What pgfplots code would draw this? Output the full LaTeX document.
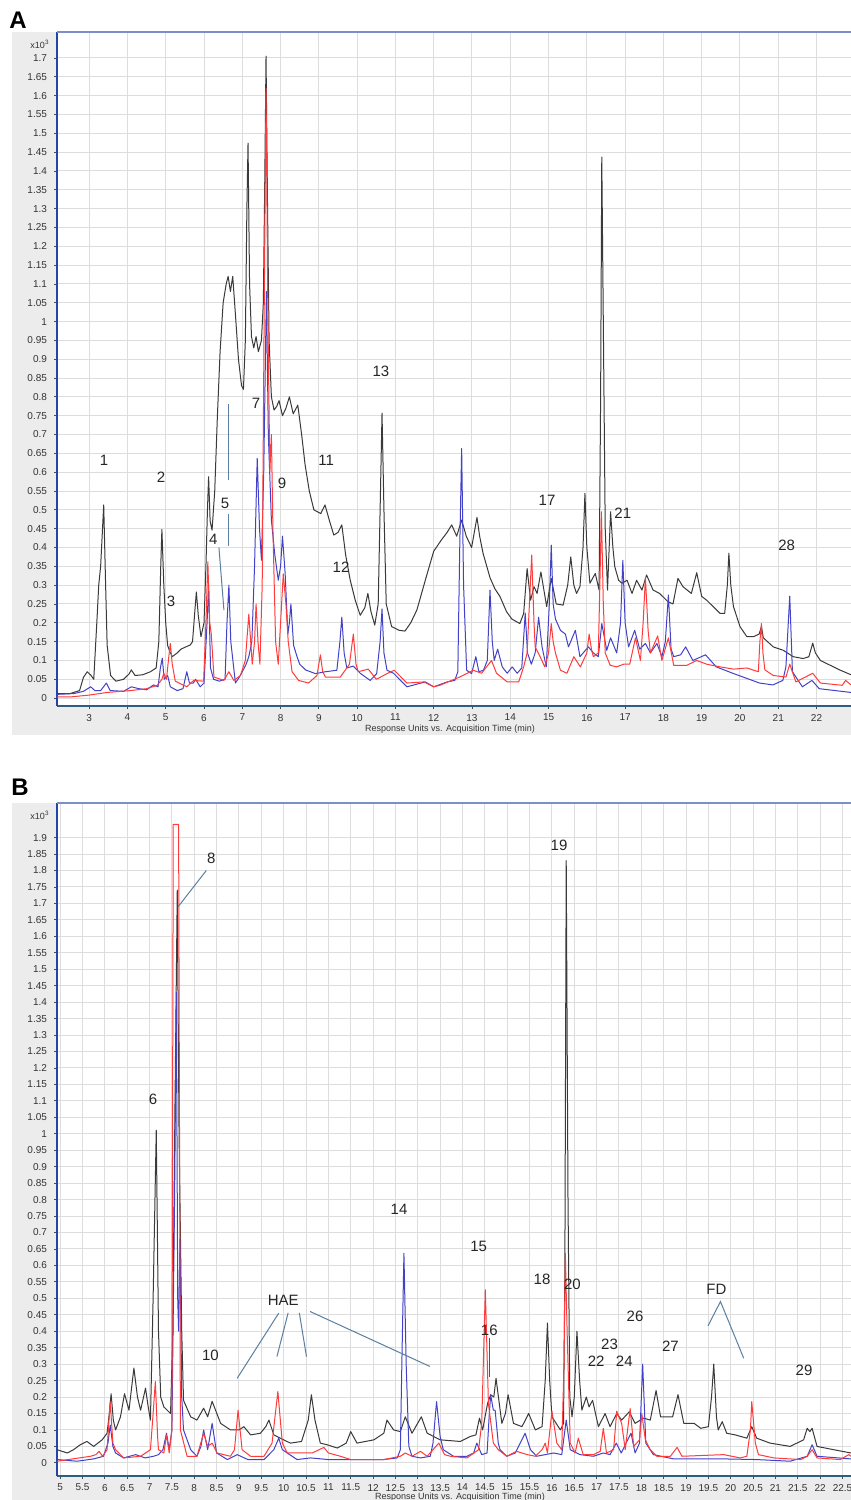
\documentclass[border=0pt]{standalone}
\usepackage{fontspec}
\setmainfont{Liberation Sans}
\usepackage{pgfplots}
\pgfplotsset{compat=1.18}

\definecolor{trblack}{HTML}{3A3A3A}
\definecolor{trblue}{HTML}{4242C8}
\definecolor{trred}{HTML}{FF3B3B}
\definecolor{pointer}{HTML}{5A7FA0}
\definecolor{panelgray}{HTML}{ECECEC}
\definecolor{gridgray}{HTML}{DDDDDD}
\definecolor{axblue}{HTML}{2444A8}
\definecolor{axbottom}{HTML}{2F5F80}

\tikzset{lbl/.style={font=\fontsize{7.5}{8}\selectfont, text=black!85, inner sep=0pt}}

\pgfplotsset{
  chrom/.style={
    scale only axis, width=397pt,
    axis x line*=bottom, axis y line*=left,
    axis background/.style={fill=white},
    grid=major, major grid style={gridgray, line width=0.5pt},
    tick align=outside, major tick length=1.5pt,
    tick style={black!70, line width=0.4pt},
    x axis line style={axbottom, line width=1.1pt},
    y axis line style={axblue, line width=0.9pt},
    ticklabel style={font=\fontsize{5}{6}\selectfont, text=black!80},
    /pgf/number format/assume math mode=true,
    scaled y ticks=false, scaled x ticks=false,
    yticklabel style={/pgf/number format/.cd, fixed, precision=2},
    xticklabel style={yshift=1pt, /pgf/number format/.cd, fixed, precision=1},
    clip mode=individual,
    every axis plot/.append style={line width=0.5pt, line join=round},
  }
}

\begin{document}
\begin{tikzpicture}
\useasboundingbox (0,0) rectangle (425.5pt,-750pt);
\fill[panelgray] (6pt,-16pt) rectangle (425.5pt,-367.5pt);
\fill[panelgray] (6pt,-401.5pt) rectangle (425.5pt,-750pt);
\node[font=\bfseries\fontsize{12}{13}\selectfont, inner sep=0pt] at (9pt,-10pt) {A};
\node[font=\bfseries\fontsize{12}{13}\selectfont, inner sep=0pt] at (10pt,-393.5pt) {B};
\node[font=\fontsize{4.5}{5}\selectfont, text=black!80, inner sep=0pt] at (20pt,-22pt) {x10\textsuperscript{3}};
\node[font=\fontsize{4.5}{5}\selectfont, text=black!80, inner sep=0pt] at (20pt,-407.5pt) {x10\textsuperscript{3}};
\node[font=\fontsize{4.5}{5}\selectfont, text=black!80, inner sep=0pt] at (225pt,-364.5pt) {Response Units vs. Acquisition Time (min)};
\node[font=\fontsize{4.5}{5}\selectfont, text=black!80, inner sep=0pt] at (230pt,-748.7pt) {Response Units vs. Acquisition Time (min)};

% ---------------- panel A ----------------
\begin{axis}[chrom, at={(28.5pt,-353pt)}, anchor=south west, height=337pt,
  xmin=2.16, xmax=22.9, ymin=-0.021, ymax=1.769,
  xtick={3,4,...,22}, ytick={0,0.05,...,1.7}]
\addplot[trblack] coordinates {
(2.16,0.012) (2.5,0.012) (2.75,0.02) (2.85,0.055) (2.95,0.07) (3.05,0.06) (3.12,0.05) (3.2,0.2) (3.25,0.3) (3.3,0.35) (3.38,0.513) (3.43,0.3) (3.47,0.14) (3.56,0.06) (3.7,0.045) (3.9,0.05) (4.05,0.065) (4.1,0.075) (4.2,0.06) (4.4,0.062) (4.6,0.07) (4.75,0.08) (4.82,0.15) (4.87,0.35) (4.9,0.448) (4.95,0.3) (5.0,0.2) (5.05,0.14) (5.1,0.125) (5.17,0.11) (5.3,0.12) (5.4,0.13) (5.5,0.135) (5.64,0.141) (5.7,0.15) (5.76,0.23) (5.8,0.282) (5.85,0.22) (5.92,0.163) (6.0,0.2) (6.05,0.35) (6.09,0.5) (6.12,0.588) (6.16,0.47) (6.21,0.446) (6.28,0.55) (6.35,0.75) (6.42,0.92) (6.5,1.05) (6.58,1.1) (6.63,1.12) (6.69,1.08) (6.75,1.12) (6.82,1.02) (6.9,0.9) (6.98,0.83) (7.03,0.82) (7.08,0.95) (7.12,1.3) (7.15,1.474) (7.19,1.1) (7.24,0.96) (7.3,0.93) (7.36,0.96) (7.42,0.92) (7.5,0.95) (7.55,1.05) (7.59,1.4) (7.62,1.705) (7.66,1.3) (7.7,0.95) (7.76,0.8) (7.83,0.765) (7.9,0.775) (7.96,0.79) (8.05,0.75) (8.14,0.77) (8.23,0.80) (8.33,0.755) (8.45,0.778) (8.55,0.7) (8.64,0.62) (8.75,0.55) (8.87,0.5) (9.05,0.49) (9.16,0.513) (9.28,0.47) (9.39,0.433) (9.5,0.44) (9.6,0.46) (9.7,0.38) (9.82,0.313) (9.95,0.26) (10.08,0.22) (10.2,0.24) (10.28,0.278) (10.36,0.23) (10.46,0.194) (10.55,0.25) (10.6,0.5) (10.65,0.757) (10.7,0.5) (10.76,0.25) (10.9,0.19) (11.1,0.18) (11.25,0.178) (11.4,0.2) (11.56,0.234) (11.8,0.32) (12.0,0.39) (12.2,0.42) (12.35,0.44) (12.47,0.46) (12.6,0.43) (12.73,0.473) (12.85,0.43) (12.99,0.40) (13.13,0.48) (13.2,0.43) (13.29,0.384) (13.47,0.32) (13.6,0.29) (13.73,0.27) (13.9,0.23) (14.04,0.21) (14.25,0.198) (14.35,0.225) (14.44,0.344) (14.53,0.26) (14.62,0.296) (14.7,0.278) (14.8,0.335) (14.95,0.243) (15.07,0.318) (15.2,0.25) (15.38,0.247) (15.5,0.3) (15.58,0.375) (15.66,0.3) (15.73,0.278) (15.82,0.296) (15.9,0.4) (15.95,0.544) (16.0,0.4) (16.08,0.305) (16.22,0.331) (16.32,0.287) (16.36,0.8) (16.39,1.437) (16.43,1.0) (16.48,0.45) (16.54,0.287) (16.62,0.495) (16.68,0.4) (16.73,0.349) (16.83,0.313) (16.92,0.305) (17.05,0.313) (17.18,0.278) (17.3,0.313) (17.44,0.287) (17.56,0.327) (17.73,0.287) (17.9,0.278) (18.12,0.256) (18.25,0.25) (18.38,0.318) (18.51,0.296) (18.73,0.278) (18.87,0.333) (19.0,0.27) (19.13,0.26) (19.3,0.243) (19.48,0.225) (19.6,0.225) (19.67,0.3) (19.71,0.385) (19.76,0.3) (19.83,0.243) (20.0,0.19) (20.18,0.163) (20.35,0.163) (20.5,0.17) (20.56,0.19) (20.61,0.16) (20.87,0.136) (21.13,0.127) (21.39,0.11) (21.65,0.105) (21.8,0.11) (21.9,0.146) (21.97,0.12) (22.1,0.1) (22.3,0.09) (22.6,0.075) (22.9,0.062)
};
\addplot[trblue] coordinates {
(2.16,0.01) (2.6,0.012) (2.85,0.018) (3.04,0.03) (3.15,0.02) (3.3,0.02) (3.45,0.04) (3.55,0.02) (3.9,0.018) (4.1,0.03) (4.3,0.025) (4.5,0.022) (4.68,0.035) (4.8,0.03) (4.86,0.08) (4.91,0.106) (4.96,0.05) (5.05,0.06) (5.12,0.03) (5.3,0.02) (5.45,0.025) (5.55,0.07) (5.62,0.04) (5.72,0.04) (5.78,0.05) (5.9,0.03) (6.0,0.04) (6.08,0.2) (6.12,0.3) (6.17,0.08) (6.25,0.05) (6.4,0.045) (6.55,0.05) (6.6,0.2) (6.65,0.30) (6.7,0.15) (6.82,0.04) (6.95,0.06) (7.1,0.09) (7.17,0.11) (7.25,0.15) (7.32,0.35) (7.39,0.637) (7.45,0.45) (7.5,0.366) (7.56,0.6) (7.63,1.08) (7.68,0.7) (7.76,0.473) (7.85,0.38) (7.94,0.313) (8.0,0.35) (8.05,0.43) (8.12,0.33) (8.19,0.17) (8.23,0.2) (8.27,0.25) (8.34,0.14) (8.43,0.11) (8.5,0.09) (8.65,0.075) (8.91,0.065) (9.17,0.07) (9.47,0.074) (9.55,0.15) (9.6,0.215) (9.66,0.12) (9.73,0.08) (9.9,0.085) (10.08,0.066) (10.34,0.047) (10.51,0.065) (10.6,0.15) (10.65,0.237) (10.7,0.12) (10.78,0.074) (10.95,0.066) (11.3,0.03) (11.78,0.043) (12.0,0.03) (12.35,0.043) (12.55,0.047) (12.63,0.07) (12.68,0.4) (12.73,0.663) (12.78,0.3) (12.86,0.074) (12.99,0.065) (13.1,0.11) (13.18,0.07) (13.3,0.074) (13.4,0.1) (13.47,0.287) (13.53,0.15) (13.58,0.10) (13.67,0.13) (13.79,0.083) (13.92,0.066) (14.05,0.083) (14.18,0.066) (14.3,0.08) (14.39,0.226) (14.45,0.12) (14.55,0.09) (14.65,0.12) (14.74,0.215) (14.83,0.136) (14.94,0.083) (15.02,0.25) (15.07,0.406) (15.12,0.25) (15.18,0.21) (15.31,0.18) (15.44,0.17) (15.52,0.136) (15.7,0.18) (15.82,0.11) (16.04,0.136) (16.17,0.12) (16.3,0.11) (16.39,0.198) (16.52,0.127) (16.62,0.16) (16.78,0.12) (16.88,0.2) (16.94,0.366) (17.0,0.2) (17.09,0.136) (17.25,0.18) (17.38,0.13) (17.53,0.145) (17.66,0.12) (17.83,0.145) (17.96,0.11) (18.05,0.15) (18.13,0.274) (18.2,0.13) (18.27,0.11) (18.45,0.115) (18.58,0.136) (18.77,0.10) (19.1,0.115) (19.38,0.083) (19.81,0.066) (20.16,0.053) (20.51,0.04) (20.86,0.035) (21.12,0.047) (21.2,0.083) (21.3,0.271) (21.37,0.07) (21.63,0.03) (21.88,0.047) (22.07,0.025) (22.9,0.015)
};
\addplot[trred] coordinates {
(2.16,0.003) (2.5,0.003) (3.0,0.008) (3.47,0.015) (4.08,0.02) (4.5,0.025) (4.78,0.034) (4.9,0.05) (4.95,0.066) (5.02,0.05) (5.08,0.11) (5.12,0.145) (5.17,0.09) (5.25,0.045) (5.55,0.03) (5.73,0.047) (5.99,0.045) (6.05,0.2) (6.1,0.362) (6.15,0.2) (6.19,0.17) (6.26,0.056) (6.52,0.047) (6.65,0.07) (6.78,0.047) (6.95,0.06) (7.08,0.1) (7.17,0.223) (7.26,0.09) (7.32,0.15) (7.36,0.25) (7.41,0.15) (7.46,0.09) (7.52,0.3) (7.57,1.0) (7.62,1.62) (7.67,1.0) (7.72,0.6) (7.76,0.7) (7.8,0.45) (7.87,0.15) (7.94,0.09) (8.0,0.2) (8.07,0.33) (8.14,0.25) (8.2,0.15) (8.3,0.07) (8.47,0.047) (8.73,0.04) (8.95,0.06) (9.04,0.115) (9.1,0.07) (9.17,0.056) (9.56,0.056) (9.8,0.09) (9.9,0.17) (9.97,0.09) (10.03,0.07) (10.29,0.077) (10.5,0.05) (10.8,0.066) (10.97,0.074) (11.3,0.04) (11.74,0.043) (12.0,0.03) (12.16,0.034) (12.68,0.056) (13.03,0.074) (13.25,0.066) (13.51,0.1) (13.64,0.066) (13.92,0.043) (14.22,0.043) (14.35,0.083) (14.44,0.12) (14.5,0.25) (14.56,0.38) (14.62,0.2) (14.65,0.136) (14.78,0.11) (14.9,0.083) (15.0,0.12) (15.07,0.198) (15.12,0.15) (15.18,0.12) (15.31,0.074) (15.48,0.066) (15.66,0.11) (15.83,0.083) (16.0,0.12) (16.06,0.17) (16.12,0.13) (16.17,0.11) (16.3,0.12) (16.34,0.3) (16.38,0.495) (16.43,0.25) (16.48,0.12) (16.61,0.087) (16.78,0.083) (16.96,0.09) (17.12,0.09) (17.27,0.16) (17.4,0.1) (17.47,0.2) (17.53,0.32) (17.6,0.18) (17.66,0.12) (17.85,0.165) (17.96,0.1) (18.13,0.16) (18.27,0.087) (18.61,0.087) (18.87,0.1) (19.13,0.09) (19.48,0.083) (19.83,0.077) (20.18,0.08) (20.48,0.07) (20.52,0.15) (20.56,0.198) (20.6,0.12) (20.65,0.075) (20.87,0.06) (21.2,0.056) (21.3,0.09) (21.46,0.043) (21.9,0.066) (22.1,0.04) (22.67,0.034) (22.76,0.047) (22.9,0.035)
};
\draw[axblue!60, line width=0.6pt] (rel axis cs:0,1) -- (rel axis cs:1,1);
\draw[pointer, line width=0.5pt] (axis cs:6.63,0.78) -- (axis cs:6.63,0.58);
\draw[pointer, line width=0.5pt] (axis cs:6.63,0.49) -- (axis cs:6.63,0.405);
\draw[pointer, line width=0.5pt] (axis cs:6.39,0.40) -- (axis cs:6.52,0.234);
\node[lbl] at (axis cs:3.39,0.632) {1};
\node[lbl] at (axis cs:4.88,0.587) {2};
\node[lbl] at (axis cs:5.14,0.258) {3};
\node[lbl] at (axis cs:6.24,0.422) {4};
\node[lbl] at (axis cs:6.55,0.518) {5};
\node[lbl] at (axis cs:7.36,0.784) {7};
\node[lbl] at (axis cs:8.04,0.571) {9};
\node[lbl] at (axis cs:9.19,0.632) {11};
\node[lbl] at (axis cs:9.58,0.348) {12};
\node[lbl] at (axis cs:10.62,0.868) {13};
\node[lbl] at (axis cs:14.96,0.526) {17};
\node[lbl] at (axis cs:16.94,0.49) {21};
\node[lbl] at (axis cs:21.22,0.406) {28};
\end{axis}

% ---------------- panel B ----------------
\begin{axis}[chrom, at={(28.5pt,-738pt)}, anchor=south west, height=336.5pt,
  xmin=4.93, xmax=22.69, ymin=-0.04, ymax=2.005,
  xtick={5,5.5,...,22.5}, ytick={0,0.05,...,1.9}]
\addplot[trblack] coordinates {
(4.93,0.04) (5.16,0.03) (5.3,0.04) (5.45,0.055) (5.6,0.065) (5.75,0.05) (5.94,0.07) (6.05,0.09) (6.1,0.15) (6.14,0.21) (6.19,0.13) (6.24,0.1) (6.35,0.14) (6.44,0.21) (6.54,0.16) (6.65,0.288) (6.73,0.2) (6.8,0.16) (6.91,0.227) (6.97,0.17) (7.02,0.13) (7.08,0.5) (7.15,1.01) (7.2,0.4) (7.25,0.2) (7.32,0.17) (7.47,0.15) (7.52,0.4) (7.57,1.1) (7.62,1.74) (7.66,1.0) (7.72,0.4) (7.76,0.19) (7.92,0.14) (8.06,0.13) (8.21,0.166) (8.3,0.14) (8.4,0.187) (8.59,0.12) (8.81,0.1) (9.0,0.1) (9.11,0.11) (9.26,0.085) (9.48,0.09) (9.6,0.11) (9.67,0.13) (9.78,0.085) (10.0,0.07) (10.15,0.06) (10.4,0.065) (10.55,0.13) (10.62,0.207) (10.7,0.13) (10.82,0.06) (10.97,0.055) (11.2,0.045) (11.4,0.06) (11.5,0.095) (11.64,0.06) (12.02,0.07) (12.24,0.09) (12.31,0.13) (12.46,0.1) (12.61,0.095) (12.72,0.14) (12.87,0.09) (13.08,0.14) (13.21,0.09) (13.5,0.07) (13.95,0.065) (14.17,0.08) (14.3,0.085) (14.38,0.136) (14.45,0.1) (14.56,0.18) (14.63,0.207) (14.7,0.2) (14.75,0.257) (14.88,0.12) (14.96,0.15) (15.02,0.207) (15.14,0.12) (15.33,0.11) (15.48,0.15) (15.63,0.1) (15.78,0.11) (15.85,0.25) (15.9,0.425) (15.95,0.25) (16.0,0.14) (16.19,0.1) (16.26,0.12) (16.29,0.6) (16.32,1.83) (16.36,0.8) (16.4,0.2) (16.45,0.14) (16.5,0.2) (16.56,0.40) (16.62,0.25) (16.67,0.16) (16.77,0.2) (16.83,0.17) (16.91,0.19) (17.04,0.11) (17.19,0.15) (17.3,0.11) (17.45,0.15) (17.56,0.13) (17.73,0.155) (17.86,0.12) (18.05,0.136) (18.2,0.13) (18.33,0.22) (18.43,0.14) (18.58,0.14) (18.7,0.14) (18.82,0.207) (18.95,0.12) (19.18,0.12) (19.33,0.105) (19.5,0.11) (19.57,0.2) (19.62,0.30) (19.68,0.14) (19.72,0.1) (19.81,0.125) (19.91,0.09) (20.1,0.085) (20.36,0.075) (20.47,0.11) (20.58,0.075) (20.88,0.06) (21.33,0.05) (21.63,0.07) (21.71,0.105) (21.77,0.095) (21.82,0.105) (21.93,0.05) (22.3,0.04) (22.69,0.03)
};
\addplot[trblue] coordinates {
(4.93,0.01) (5.38,0.005) (5.75,0.012) (5.97,0.02) (6.07,0.06) (6.12,0.115) (6.18,0.05) (6.24,0.03) (6.42,0.015) (6.69,0.025) (6.9,0.015) (7.09,0.02) (7.2,0.025) (7.3,0.04) (7.38,0.09) (7.44,0.04) (7.5,0.1) (7.56,0.8) (7.6,1.43) (7.63,0.5) (7.65,0.4) (7.68,0.68) (7.72,0.2) (7.76,0.1) (7.92,0.04) (8.06,0.02) (8.15,0.05) (8.21,0.1) (8.3,0.04) (8.4,0.12) (8.5,0.03) (8.74,0.01) (8.96,0.025) (9.2,0.01) (9.56,0.01) (9.78,0.04) (9.89,0.075) (9.97,0.04) (10.3,0.01) (10.6,0.015) (11.0,0.01) (12.24,0.01) (12.54,0.015) (12.61,0.04) (12.65,0.35) (12.69,0.637) (12.74,0.3) (12.8,0.05) (12.87,0.02) (13.06,0.015) (13.28,0.02) (13.34,0.06) (13.42,0.186) (13.5,0.08) (13.57,0.04) (13.8,0.02) (14.1,0.02) (14.25,0.03) (14.32,0.06) (14.43,0.025) (14.55,0.03) (14.6,0.15) (14.63,0.207) (14.69,0.16) (14.73,0.16) (14.8,0.06) (14.84,0.04) (14.99,0.02) (15.18,0.03) (15.29,0.06) (15.4,0.09) (15.52,0.04) (15.66,0.02) (16.04,0.03) (16.22,0.025) (16.32,0.13) (16.41,0.04) (16.63,0.025) (16.93,0.02) (17.15,0.03) (17.3,0.025) (17.44,0.06) (17.55,0.03) (17.77,0.09) (17.86,0.03) (17.96,0.06) (18.03,0.30) (18.1,0.06) (18.27,0.025) (18.72,0.012) (19.84,0.012) (20.58,0.01) (21.33,0.005) (21.71,0.02) (21.82,0.055) (21.93,0.02) (22.69,0.012)
};
\addplot[trred] coordinates {
(4.93,0.005) (5.68,0.02) (5.8,0.025) (5.87,0.035) (5.95,0.02) (6.05,0.04) (6.12,0.186) (6.18,0.06) (6.24,0.04) (6.42,0.015) (6.8,0.02) (7.02,0.04) (7.08,0.15) (7.13,0.247) (7.18,0.08) (7.2,0.04) (7.32,0.03) (7.38,0.085) (7.44,0.03) (7.5,0.1) (7.53,1.94) (7.65,1.94) (7.69,0.1) (7.84,0.02) (8.06,0.02) (8.21,0.09) (8.3,0.05) (8.4,0.06) (8.51,0.03) (8.81,0.02) (8.9,0.04) (8.98,0.16) (9.07,0.04) (9.26,0.02) (9.56,0.02) (9.74,0.06) (9.87,0.217) (9.97,0.06) (10.08,0.03) (10.64,0.03) (10.9,0.047) (11.0,0.03) (11.27,0.02) (11.5,0.01) (12.24,0.01) (12.61,0.02) (12.72,0.03) (12.87,0.02) (13.06,0.035) (13.21,0.02) (13.47,0.06) (13.6,0.025) (13.73,0.02) (14.1,0.015) (14.36,0.04) (14.43,0.12) (14.51,0.526) (14.58,0.18) (14.69,0.06) (14.8,0.04) (14.99,0.02) (15.21,0.035) (15.45,0.025) (15.63,0.02) (15.78,0.04) (15.85,0.06) (15.9,0.03) (16.0,0.157) (16.11,0.06) (16.22,0.04) (16.27,0.3) (16.3,0.637) (16.34,0.4) (16.41,0.06) (16.52,0.03) (16.59,0.075) (16.7,0.025) (16.93,0.025) (17.08,0.035) (17.15,0.105) (17.22,0.03) (17.38,0.04) (17.45,0.157) (17.56,0.12) (17.64,0.04) (17.75,0.165) (17.83,0.05) (17.96,0.07) (18.01,0.15) (18.09,0.07) (18.2,0.04) (18.35,0.02) (18.65,0.02) (18.8,0.047) (18.91,0.02) (19.84,0.025) (20.21,0.015) (20.36,0.02) (20.44,0.1) (20.47,0.186) (20.55,0.06) (20.62,0.025) (20.96,0.015) (21.56,0.01) (21.71,0.02) (21.82,0.04) (21.93,0.015) (22.45,0.01) (22.64,0.025) (22.69,0.02)
};
\draw[axblue!60, line width=0.6pt] (rel axis cs:0,1) -- (rel axis cs:1,1);
\draw[pointer, line width=0.5pt] (axis cs:8.27,1.80) -- (axis cs:7.64,1.69);
\draw[pointer, line width=0.5pt] (axis cs:9.89,0.455) -- (axis cs:8.96,0.257);
\draw[pointer, line width=0.5pt] (axis cs:10.1,0.456) -- (axis cs:9.85,0.323);
\draw[pointer, line width=0.5pt] (axis cs:10.35,0.456) -- (axis cs:10.51,0.323);
\draw[pointer, line width=0.5pt] (axis cs:10.59,0.46) -- (axis cs:13.27,0.293);
\draw[pointer, line width=0.5pt] (axis cs:19.49,0.416) -- (axis cs:19.77,0.49) -- (axis cs:20.29,0.318);
\draw[pointer!70!black, line width=0.5pt] (axis cs:14.6,0.38) -- (axis cs:14.6,0.262);
\node[lbl] at (axis cs:7.08,1.106) {6};
\node[lbl] at (axis cs:8.38,1.836) {8};
\node[lbl] at (axis cs:8.36,0.328) {10};
\node[lbl] at (axis cs:9.99,0.495) {HAE};
\node[lbl] at (axis cs:12.58,0.769) {14};
\node[lbl] at (axis cs:14.36,0.657) {15};
\node[lbl] at (axis cs:14.6,0.402) {16};
\node[lbl] at (axis cs:15.78,0.558) {18};
\node[lbl] at (axis cs:16.16,1.875) {19};
\node[lbl] at (axis cs:16.46,0.543) {20};
\node[lbl] at (axis cs:16.99,0.308) {22};
\node[lbl] at (axis cs:17.29,0.359) {23};
\node[lbl] at (axis cs:17.62,0.308) {24};
\node[lbl] at (axis cs:17.86,0.445) {26};
\node[lbl] at (axis cs:18.65,0.354) {27};
\node[lbl] at (axis cs:19.68,0.526) {FD};
\node[lbl] at (axis cs:21.64,0.281) {29};
\end{axis}
\end{tikzpicture}
\end{document}
